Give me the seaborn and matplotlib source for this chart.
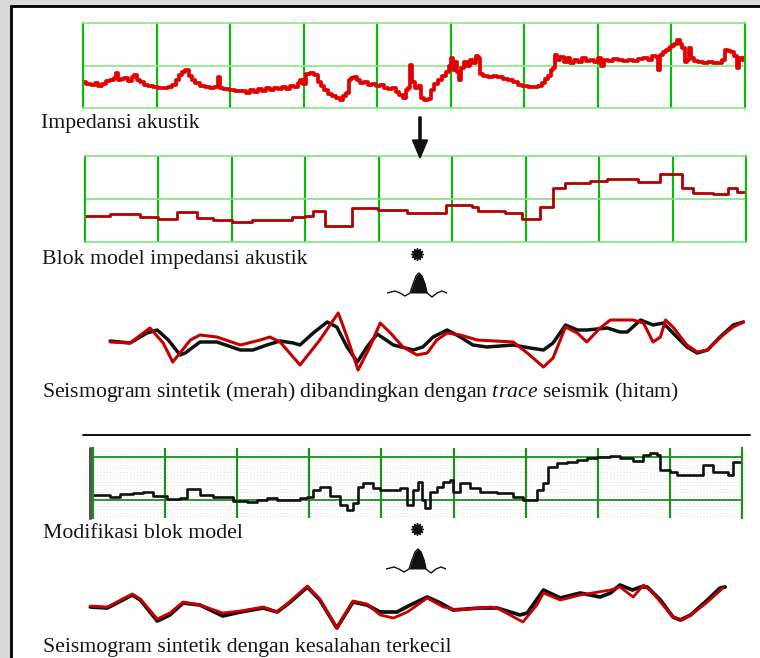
import matplotlib
matplotlib.use("Agg")
import matplotlib.pyplot as plt
from matplotlib.patches import Rectangle
from matplotlib.lines import Line2D
import numpy as np
import seaborn as sns

sns.set_theme(style="white")
plt.rcParams["font.family"] = ["Liberation Serif", "DejaVu Serif"]
plt.rcParams["mathtext.fontset"] = "custom"
plt.rcParams["mathtext.rm"] = "Liberation Serif"
plt.rcParams["mathtext.it"] = "Liberation Serif:italic"

# ---------------- data ----------------
# acoustic impedance log: two-way time (ms) and relative impedance (0-100)
imp_t = [0, 7, 14, 19, 23, 29, 34, 39, 44, 46, 49, 53, 58, 64, 68, 71, 75, 80, 86, 91,
         98, 105, 112, 118, 125, 129, 133, 137, 141, 146, 150, 155, 162, 169, 175, 182, 185, 188, 194, 203,
         211, 219, 224, 230, 235, 241, 246, 252, 257, 262, 268, 273, 279, 284, 290, 294, 296, 301, 305, 311,
         318, 322, 326, 330, 336, 341, 347, 351, 355, 359, 363, 367, 371, 375, 379, 385, 390, 396, 401, 407,
         412, 418, 423, 428, 432, 437, 441, 443, 446, 449, 453, 458, 462, 466, 471, 475, 480, 486, 491, 495,
         499, 502, 505, 507, 510, 513, 515, 520, 524, 528, 532, 536, 539, 541, 547, 554, 560, 567, 574, 581,
         588, 594, 601, 608, 615, 622, 626, 630, 634, 638, 641, 643, 647, 651, 656, 660, 665, 670, 676, 681,
         687, 692, 698, 703, 706, 710, 717, 724, 730, 737, 744, 751, 758, 764, 771, 777, 781, 783, 786, 790,
         794, 798, 802, 806, 809, 813, 817, 820, 823, 826, 828, 834, 839, 846, 853, 860, 866, 872, 874, 879,
         883, 887, 891, 894, 898, 900]
imp_v = [31, 28, 27, 29, 26, 28, 32, 33, 35, 41, 33, 34, 35, 32, 36, 39, 33, 31, 27, 26,
         25, 24, 24, 25, 27, 33, 39, 42, 45, 38, 33, 29, 26, 25, 24, 25, 36, 24, 22, 21,
         20, 20, 18, 21, 19, 22, 20, 24, 21, 24, 22, 25, 22, 26, 25, 29, 33, 28, 40, 41,
         39, 31, 26, 21, 16, 14, 12, 9, 14, 18, 33, 35, 36, 33, 29, 31, 27, 28, 26, 27,
         24, 22, 24, 19, 15, 12, 21, 24, 51, 31, 24, 26, 12, 9, 11, 21, 28, 33, 38, 42,
         49, 59, 45, 54, 42, 33, 47, 54, 49, 56, 53, 61, 59, 40, 38, 36, 38, 36, 34, 33,
         31, 27, 26, 25, 25, 26, 29, 34, 38, 45, 47, 62, 56, 60, 54, 59, 53, 56, 54, 59,
         55, 56, 54, 59, 49, 56, 55, 58, 56, 55, 56, 55, 58, 59, 56, 61, 60, 45, 62, 66,
         68, 71, 73, 75, 80, 75, 71, 54, 56, 71, 59, 55, 54, 53, 54, 53, 53, 56, 68, 67,
         66, 61, 47, 59, 56, 59]

# blocky impedance model (block tops in ms, block impedance)
blk_t = [0, 34, 75, 99, 125, 152, 174, 200, 227, 282, 300, 310, 327, 364, 399, 438, 492,
         527, 535, 572, 595, 620, 637, 654, 688, 711, 753, 783, 813, 828, 855, 876, 888, 900]
blk_v = [30, 33, 29, 27, 35, 28, 26, 23, 26, 29, 30, 36, 19, 40, 37, 34, 43,
         41, 36, 34, 27, 41, 63, 69, 71, 73, 70, 79, 63, 57, 56, 63, 58, 58]

# first comparison: seismic trace (black) and synthetic (red)
trace1_t = [37, 64, 87, 101, 116, 132, 139, 159, 182, 214, 231, 250, 268, 286, 295, 313, 332, 345, 359, 373,
            386, 400, 422, 449, 462, 476, 495, 513, 530, 549, 585, 608, 626, 639, 656, 672, 685, 713, 730, 740,
            758, 775, 789, 802, 821, 835, 849, 866, 884, 898]
trace1_a = [-0.04, -0.12, 0.28, 0.40, 0.0, -0.60, -0.52, -0.08, -0.08, -0.40, -0.40, -0.20, -0.04, -0.12, -0.20,
            0.28, 0.72, 0.52, -0.28, -0.88, -0.28, 0.24, -0.20, -0.40, -0.28, 0.12, 0.40, 0.12, -0.20, -0.28,
            -0.20, -0.32, -0.40, -0.12, 0.60, 0.40, 0.40, 0.48, 0.32, 0.32, 0.80, 0.60, 0.68, 0.28, -0.28,
            -0.52, -0.40, 0.12, 0.60, 0.72]
synth1_t = [37, 64, 91, 109, 122, 146, 159, 182, 214, 241, 254, 268, 295, 322, 347, 359, 374, 390, 404, 418,
            435, 454, 468, 481, 495, 513, 536, 585, 604, 626, 639, 656, 672, 685, 703, 717, 748, 762, 775, 785,
            792, 802, 821, 835, 849, 870, 884, 898]
synth1_a = [-0.08, -0.12, 0.48, -0.12, -0.88, 0.0, 0.20, 0.12, -0.20, 0.0, 0.12, -0.08, -1.00, 0.0, 1.08,
            0.12, -1.20, -0.28, 0.68, 0.28, -0.28, -0.60, -0.52, 0.0, 0.28, 0.20, 0.0, -0.08, -0.52, -1.08,
            -0.72, 0.52, 0.28, -0.08, 0.48, 0.80, 0.80, 0.68, -0.08, 0.12, 0.80, 0.52, -0.20, -0.48, -0.40,
            0.20, 0.52, 0.72]

# modified block model
mod_t = [0, 24, 37, 55, 69, 83, 103, 121, 130, 139, 148, 166, 186, 194, 214, 227, 241, 255, 273, 287,
         297, 305, 315, 325, 329, 343, 352, 361, 368, 374, 388, 398, 412, 426, 436, 444, 451, 456, 460, 467,
         477, 485, 495, 499, 509, 523, 537, 560, 583, 596, 610, 616, 624, 631, 644, 657, 671, 685, 699, 717,
         731, 749, 763, 773, 782, 786, 800, 810, 832, 846, 860, 874, 881, 888, 900]
mod_v = [12, 7, 14, 16, 19, 9, 2, 5, 26, 26, 12, 7, 7, -2, -5, 0, 5, 0, 0, 5,
         7, 23, 30, 30, 9, -12, -23, -7, 30, 40, 28, 23, 23, 28, -12, 23, 42, 0, -19, 19,
         30, 42, 47, 19, 40, 28, 19, 16, 7, 0, 0, 23, 40, 77, 86, 88, 93, 98, 100, 102,
         98, 91, 105, 109, 105, 70, 65, 58, 58, 81, 65, 65, 58, 88, 88]

# final comparison after model update
trace2_t = [10, 33, 67, 78, 101, 118, 136, 159, 190, 214, 245, 264, 282, 305, 322, 345, 367, 386, 404, 427,
            445, 468, 486, 503, 540, 563, 594, 604, 626, 649, 676, 703, 717, 730, 747, 758, 767, 785, 802, 812,
            826, 849, 866, 873]
trace2_a = [-0.08, -0.12, 0.40, 0.20, -0.64, -0.40, 0.08, 0.0, -0.44, -0.28, -0.12, -0.28, 0.12, 0.72, 0.20,
            -0.92, 0.12, 0.0, -0.28, -0.28, 0.0, 0.32, 0.08, -0.20, -0.12, -0.12, -0.40, -0.32, 0.60, 0.28,
            0.48, 0.32, 0.48, 0.80, 0.60, 0.72, 0.72, 0.20, -0.48, -0.60, -0.40, 0.20, 0.68, 0.72]
synth2_t = [10, 33, 67, 78, 101, 118, 136, 159, 190, 214, 245, 264, 282, 305, 322, 345, 367, 386, 404, 422,
            441, 468, 490, 509, 554, 563, 598, 617, 626, 649, 676, 717, 730, 748, 762, 775, 802, 815, 830, 849,
            870]
synth2_a = [-0.04, -0.08, 0.44, 0.24, -0.56, -0.32, 0.12, 0.0, -0.32, -0.24, -0.08, -0.28, 0.16, 0.76, 0.24,
            -0.92, 0.16, 0.04, -0.40, -0.52, -0.28, 0.28, -0.08, -0.20, -0.08, -0.12, -0.68, 0.0, 0.48, 0.20,
            0.40, 0.60, 0.72, 0.32, 0.80, 0.48, -0.48, -0.60, -0.32, 0.12, 0.68]

# source wavelet used for the convolution
wav_t = [-32, -28, -24, -19, -14, -9, -6, -3, 0, 3, 6, 8, 13, 18, 23, 28]
wav_a = [0, 0.05, 0.1, 0, -0.15, 0, 0.45, 0.85, 1.0, 0.85, 0.45, 0, -0.2, 0, 0.1, 0]

labels = ["Impedansi akustik",
          "Blok model impedansi akustik",
          r"Seismogram sintetik (merah) dibandingkan dengan $\mathit{trace}$ seismik (hitam)",
          "Modifikasi blok model",
          "Seismogram sintetik dengan kesalahan terkecil"]

# ---------------- layout helpers ----------------
W, H = 760, 658
fig = plt.figure(figsize=(W / 100, H / 100), dpi=100, facecolor="#d9d9d9")


def box(x0, y0, x1, y1):
    return [x0 / W, 1 - y1 / H, (x1 - x0) / W, (y1 - y0) / H]


# white sheet with black frame
fig.add_artist(Rectangle((11 / W, 0), 1, 1 - 6 / H, transform=fig.transFigure,
                         facecolor="white", edgecolor="none", zorder=-5))
fig.add_artist(Line2D([11 / W, 11 / W], [0, 1 - 6 / H], transform=fig.transFigure,
                      color="black", lw=2, zorder=-4))
fig.add_artist(Line2D([11 / W, 1], [1 - 6 / H, 1 - 6 / H], transform=fig.transFigure,
                      color="black", lw=2, zorder=-4))


def green_grid(ax, vcol, hcol, vlw, hlw, yticks, frame_h=True):
    ax.set_xlim(0, 900)
    ax.set_xticks(range(100, 900, 100))
    ax.set_yticks(yticks)
    ax.xaxis.grid(True, color=vcol, lw=vlw)
    ax.yaxis.grid(True, color=hcol, lw=hlw)
    ax.tick_params(length=0, labelbottom=False, labelleft=False)
    for s in ("left", "right"):
        ax.spines[s].set_visible(True)
        ax.spines[s].set_color(vcol)
        ax.spines[s].set_linewidth(vlw)
    for s in ("top", "bottom"):
        ax.spines[s].set_visible(frame_h)
        ax.spines[s].set_color(hcol)
        ax.spines[s].set_linewidth(hlw)
    ax.set_facecolor("none")
    ax.set_xlabel("")
    ax.set_ylabel("")


round_line = dict(solid_joinstyle="round", solid_capstyle="round")

# ---------------- impedance log ----------------
ax1 = fig.add_axes(box(83, 23, 745, 108))
sns.lineplot(x=imp_t, y=imp_v, ax=ax1, color="#e30000", linewidth=2.7,
             drawstyle="steps-mid", estimator=None, sort=False)
ax1.set_ylim(0, 100)
green_grid(ax1, "#00c000", "#86e886", 1.5, 1.2, [50])

# ---------------- block model ----------------
ax2 = fig.add_axes(box(85, 156, 746, 242))
sns.lineplot(x=blk_t, y=blk_v, ax=ax2, color="#b00000", linewidth=2.0,
             drawstyle="steps-post", estimator=None, sort=False)
ax2.set_ylim(0, 100)
green_grid(ax2, "#00c000", "#7fe37f", 1.5, 1.2, [50])

# ---------------- first comparison ----------------
ax3 = fig.add_axes(box(83, 300, 745, 380))
sns.lineplot(x=trace1_t, y=trace1_a, ax=ax3, color="#111111", linewidth=2.5,
             estimator=None, sort=False, **round_line)
sns.lineplot(x=synth1_t, y=synth1_a, ax=ax3, color="#c40000", linewidth=2.2,
             estimator=None, sort=False, **round_line)
ax3.set_xlim(0, 900)
ax3.set_ylim(-1.6, 1.6)
ax3.axis("off")

# ---------------- modified block model ----------------
ax4 = fig.add_axes(box(93, 448, 742, 518))
ax4.set_ylim(-42, 121)
for yy in np.arange(-38, 121, 8):
    ax4.axhline(yy, color="#e0e0e0", lw=0.8, ls=(0, (1, 2)), zorder=0)
sns.lineplot(x=mod_t, y=mod_v, ax=ax4, color="#111111", linewidth=1.9,
             drawstyle="steps-post", estimator=None, sort=False)
green_grid(ax4, "#1f8f1f", "#1f8f1f", 1.6, 1.3, [0, 100], frame_h=False)

# ---------------- final comparison ----------------
ax5 = fig.add_axes(box(83, 565, 745, 645))
sns.lineplot(x=trace2_t, y=trace2_a, ax=ax5, color="#111111", linewidth=2.7,
             estimator=None, sort=False, **round_line)
sns.lineplot(x=synth2_t, y=synth2_a, ax=ax5, color="#c80000", linewidth=2.0,
             estimator=None, sort=False, **round_line)
ax5.set_xlim(0, 900)
ax5.set_ylim(-1.6, 1.6)
ax5.axis("off")

# ---------------- wavelet symbols ----------------
lobe = [(-9 <= t <= 8) for t in wav_t]
for (x0, y0, x1, y1) in [(387, 268, 447, 300), (386, 544, 446, 576)]:
    axw = fig.add_axes(box(x0, y0, x1, y1))
    sns.lineplot(x=wav_t, y=wav_a, ax=axw, color="#111111", linewidth=1.0,
                 estimator=None, sort=False)
    axw.fill_between(wav_t, wav_a, 0, where=lobe, color="#111111", lw=0)
    axw.set_xlim(-32, 28)
    axw.set_ylim(-0.35, 1.25)
    axw.axis("off")

# ---------------- annotations ----------------
ov = fig.add_axes([0, 0, 1, 1])
ov.set_xlim(0, W)
ov.set_ylim(H, 0)
ov.axis("off")
ov.patch.set_alpha(0)

ov.arrow(420, 117, 0, 41, width=2.2, head_width=15, head_length=18,
         length_includes_head=True, fc="#111111", ec="#111111")
ov.plot([417], [254], marker=(12, 1, 0), ms=9, color="#111111")
ov.plot([417], [529], marker=(12, 1, 0), ms=9, color="#111111")
ov.plot([83, 750], [435, 435], color="#111111", lw=1.4)
ov.plot([90, 90], [448, 518], color="#555555", lw=2.2)

for (x, y), s in zip([(41, 128), (42, 264), (42, 397), (43, 538), (43, 652)], labels):
    ov.text(x, y, s, fontsize=15.7, va="baseline", ha="left", color="#151515")

fig.savefig("out.png", dpi=100, facecolor=fig.get_facecolor())
